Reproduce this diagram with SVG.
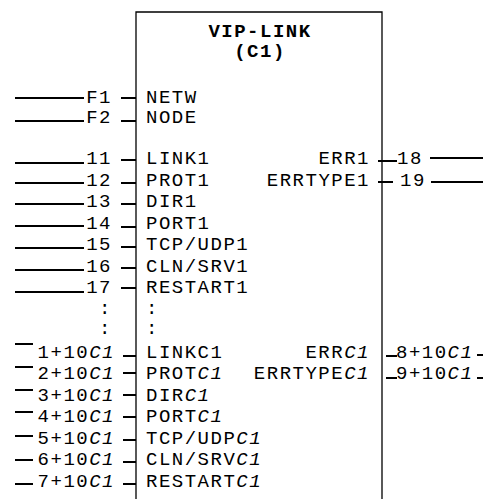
<svg xmlns="http://www.w3.org/2000/svg" width="483" height="499" viewBox="0 0 483 499">
<style>
text{font-family:"Liberation Mono","DejaVu Sans Mono",monospace;font-size:19px;letter-spacing:1.5px;fill:#000}
.b{font-weight:bold}
.e{text-anchor:end}
.m{text-anchor:middle}
.i{font-style:italic}
.w line{stroke:#000;stroke-width:2}
.box{fill:#fff;stroke:#000;stroke-width:1.3}
</style>
<rect width="483" height="499" fill="#fff"/>
<g id="block">
<path class="box" d="M136,510 V12 H382 V510"/>
<text class="b m" x="260" y="37">VIP-LINK</text>
<text class="b m" x="260" y="57">(C1)</text>
<text x="146" y="103">NETW</text>
<text x="146" y="123">NODE</text>
<text x="146" y="164">LINK1</text>
<text x="146" y="185.5">PROT1</text>
<text x="146" y="207">DIR1</text>
<text x="146" y="228.5">PORT1</text>
<text x="146" y="250">TCP/UDP1</text>
<text x="146" y="271.5">CLN/SRV1</text>
<text x="146" y="293">RESTART1</text>
<text x="146" y="313.5">:</text>
<text x="146" y="333.5">:</text>
<text x="146" y="357.5">LINKC1</text>
<text x="146" y="379">PROT<tspan class="i">C1</tspan></text>
<text x="146" y="400.5">DIR<tspan class="i">C1</tspan></text>
<text x="146" y="422">PORT<tspan class="i">C1</tspan></text>
<text x="146" y="443.5">TCP/UDP<tspan class="i">C1</tspan></text>
<text x="146" y="465">CLN/SRV<tspan class="i">C1</tspan></text>
<text x="146" y="486.5">RESTART<tspan class="i">C1</tspan></text>
<text class="e" x="370" y="164">ERR1</text>
<text class="e" x="370" y="185.5">ERRTYPE1</text>
<text class="e" x="370" y="357.5">ERR<tspan class="i">C1</tspan></text>
<text class="e" x="370" y="379">ERRTYPE<tspan class="i">C1</tspan></text>
</g>
<g id="connectors" class="w">
<line x1="15" y1="98" x2="84" y2="98"/><line x1="121" y1="98" x2="136" y2="98"/>
<line x1="15" y1="121" x2="84" y2="121"/><line x1="121" y1="121" x2="136" y2="121"/>
<line x1="15" y1="163" x2="84" y2="163"/><line x1="121" y1="160" x2="136" y2="160"/>
<line x1="15" y1="183" x2="84" y2="183"/><line x1="121" y1="183" x2="136" y2="183"/>
<line x1="15" y1="204" x2="84" y2="204"/><line x1="121" y1="204" x2="136" y2="204"/>
<line x1="15" y1="226" x2="84" y2="226"/><line x1="121" y1="227" x2="136" y2="227"/>
<line x1="15" y1="248" x2="84" y2="248"/><line x1="121" y1="247" x2="136" y2="247"/>
<line x1="15" y1="270" x2="84" y2="270"/><line x1="121" y1="268" x2="136" y2="268"/>
<line x1="15" y1="292" x2="84" y2="292"/><line x1="121" y1="288" x2="136" y2="288"/>
<line x1="15" y1="344" x2="33" y2="344"/><line x1="123" y1="356" x2="136" y2="356"/>
<line x1="15" y1="367" x2="33" y2="367"/><line x1="123" y1="373" x2="136" y2="373"/>
<line x1="15" y1="390" x2="33" y2="390"/><line x1="123" y1="395" x2="136" y2="395"/>
<line x1="15" y1="412" x2="33" y2="412"/><line x1="123" y1="417" x2="136" y2="417"/>
<line x1="15" y1="436" x2="33" y2="436"/><line x1="123" y1="440" x2="136" y2="440"/>
<line x1="15" y1="460" x2="33" y2="460"/><line x1="123" y1="462" x2="136" y2="462"/>
<line x1="15" y1="484" x2="33" y2="484"/><line x1="123" y1="484" x2="136" y2="484"/>
<line x1="378" y1="161" x2="397" y2="161"/><line x1="430" y1="158" x2="483" y2="158"/>
<line x1="378" y1="182" x2="393" y2="182"/><line x1="431" y1="182" x2="483" y2="182"/>
<line x1="386" y1="356" x2="397" y2="356"/><line x1="477" y1="355" x2="483" y2="355"/>
<line x1="386" y1="378" x2="397" y2="378"/><line x1="477" y1="378" x2="483" y2="378"/>
</g>
<g id="connector-labels">
<text class="e" x="112" y="103">F1</text>
<text class="e" x="112" y="123">F2</text>
<text class="e" x="112" y="164">11</text>
<text class="e" x="112" y="185.5">12</text>
<text class="e" x="112" y="207">13</text>
<text class="e" x="112" y="228.5">14</text>
<text class="e" x="112" y="250">15</text>
<text class="e" x="112" y="271.5">16</text>
<text class="e" x="112" y="293">17</text>
<text class="e" x="112" y="313.5">:</text>
<text class="e" x="112" y="333.5">:</text>
<text class="e" x="115" y="357.5">1+10<tspan class="i">C1</tspan></text>
<text class="e" x="115" y="379">2+10<tspan class="i">C1</tspan></text>
<text class="e" x="115" y="400.5">3+10<tspan class="i">C1</tspan></text>
<text class="e" x="115" y="422">4+10<tspan class="i">C1</tspan></text>
<text class="e" x="115" y="443.5">5+10<tspan class="i">C1</tspan></text>
<text class="e" x="115" y="465">6+10<tspan class="i">C1</tspan></text>
<text class="e" x="115" y="486.5">7+10<tspan class="i">C1</tspan></text>
<text x="397" y="164">18</text>
<text x="400" y="185.5">19</text>
<text x="396" y="357.5">8+10<tspan class="i">C1</tspan></text>
<text x="396" y="379">9+10<tspan class="i">C1</tspan></text>
</g>
</svg>
